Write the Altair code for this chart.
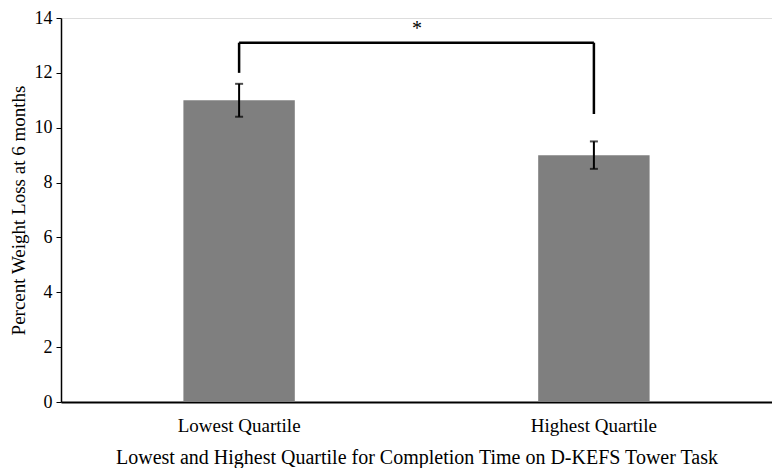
import altair as alt
import pandas as pd

categories = ["Lowest Quartile", "Highest Quartile"]
values = [11.0, 9.0]
err_low = [10.4, 8.5]
err_high = [11.6, 9.5]

# significance bracket
bracket_left_bottom = 12.0
bracket_right_bottom = 10.5
bracket_top = 13.1
star_y = 13.6

df = pd.DataFrame({"cat": categories, "val": values, "lo": err_low, "hi": err_high})
brk_v = pd.DataFrame({"cat": categories,
                      "y0": [bracket_left_bottom, bracket_right_bottom],
                      "y1": [bracket_top, bracket_top]})
brk_h = pd.DataFrame({"a": [categories[0]], "b": [categories[1]], "y": [bracket_top]})
star = pd.DataFrame({"cat": [categories[0]], "y": [star_y], "t": ["*"]})

FONT = "Liberation Serif"

xscale = alt.Scale(domain=categories, paddingInner=0.686, paddingOuter=0.345)
yscale = alt.Scale(domain=[0, 14])

x = alt.X("cat:N", scale=xscale, sort=categories,
          title="Lowest and Highest Quartile for Completion Time on D-KEFS Tower Task",
          axis=alt.Axis(labelAngle=0, ticks=False, labelPadding=14, titlePadding=12,
                        labelFontSize=19, titleFontSize=20, labelFont=FONT, titleFont=FONT,
                        titleFontWeight="normal", labelColor="black", titleColor="black",
                        domainColor="black", domainWidth=2))

bars = alt.Chart(df).mark_bar(color="#7f7f7f").encode(
    x=x,
    y=alt.Y("val:Q", scale=yscale, title="Percent Weight Loss at 6 months",
            axis=alt.Axis(values=[0, 2, 4, 6, 8, 10, 12, 14], grid=False, tickSize=5,
                          tickColor="black", domainColor="black", domainWidth=1.5,
                          labelFontSize=18, titleFontSize=19, labelFont=FONT, titleFont=FONT,
                          titleFontWeight="normal", labelColor="black", titleColor="black",
                          labelPadding=4, titlePadding=6)),
)

err = alt.Chart(df).mark_rule(color="black", strokeWidth=2).encode(
    x=alt.X("cat:N", scale=xscale, sort=categories), y="lo:Q", y2="hi:Q")
cap_lo = alt.Chart(df).mark_tick(color="black", orient="horizontal", size=8, thickness=2).encode(
    x=alt.X("cat:N", scale=xscale, sort=categories), y="lo:Q")
cap_hi = alt.Chart(df).mark_tick(color="black", orient="horizontal", size=8, thickness=2).encode(
    x=alt.X("cat:N", scale=xscale, sort=categories), y="hi:Q")

bv = alt.Chart(brk_v).mark_rule(color="black", strokeWidth=2.5).encode(
    x=alt.X("cat:N", scale=xscale, sort=categories), y="y0:Q", y2="y1:Q")
bh = alt.Chart(brk_h).mark_rule(color="black", strokeWidth=2.5).encode(
    x=alt.X("a:N", scale=xscale, sort=categories), x2="b:N", y="y:Q")
st = alt.Chart(star).mark_text(font=FONT, fontSize=20, color="black", dx=178).encode(
    x=alt.X("cat:N", scale=xscale, sort=categories), y="y:Q", text="t:N")

chart = alt.layer(bars, err, cap_lo, cap_hi, bv, bh, st).properties(
    width=711, height=384,
    autosize=alt.AutoSizeParams(type="none"),
    padding={"left": 53, "top": 10, "right": 0, "bottom": 66},
).configure_view(stroke=None).configure(background="white")

chart.save("out.html", embed_options={"renderer": "svg", "actions": False})
